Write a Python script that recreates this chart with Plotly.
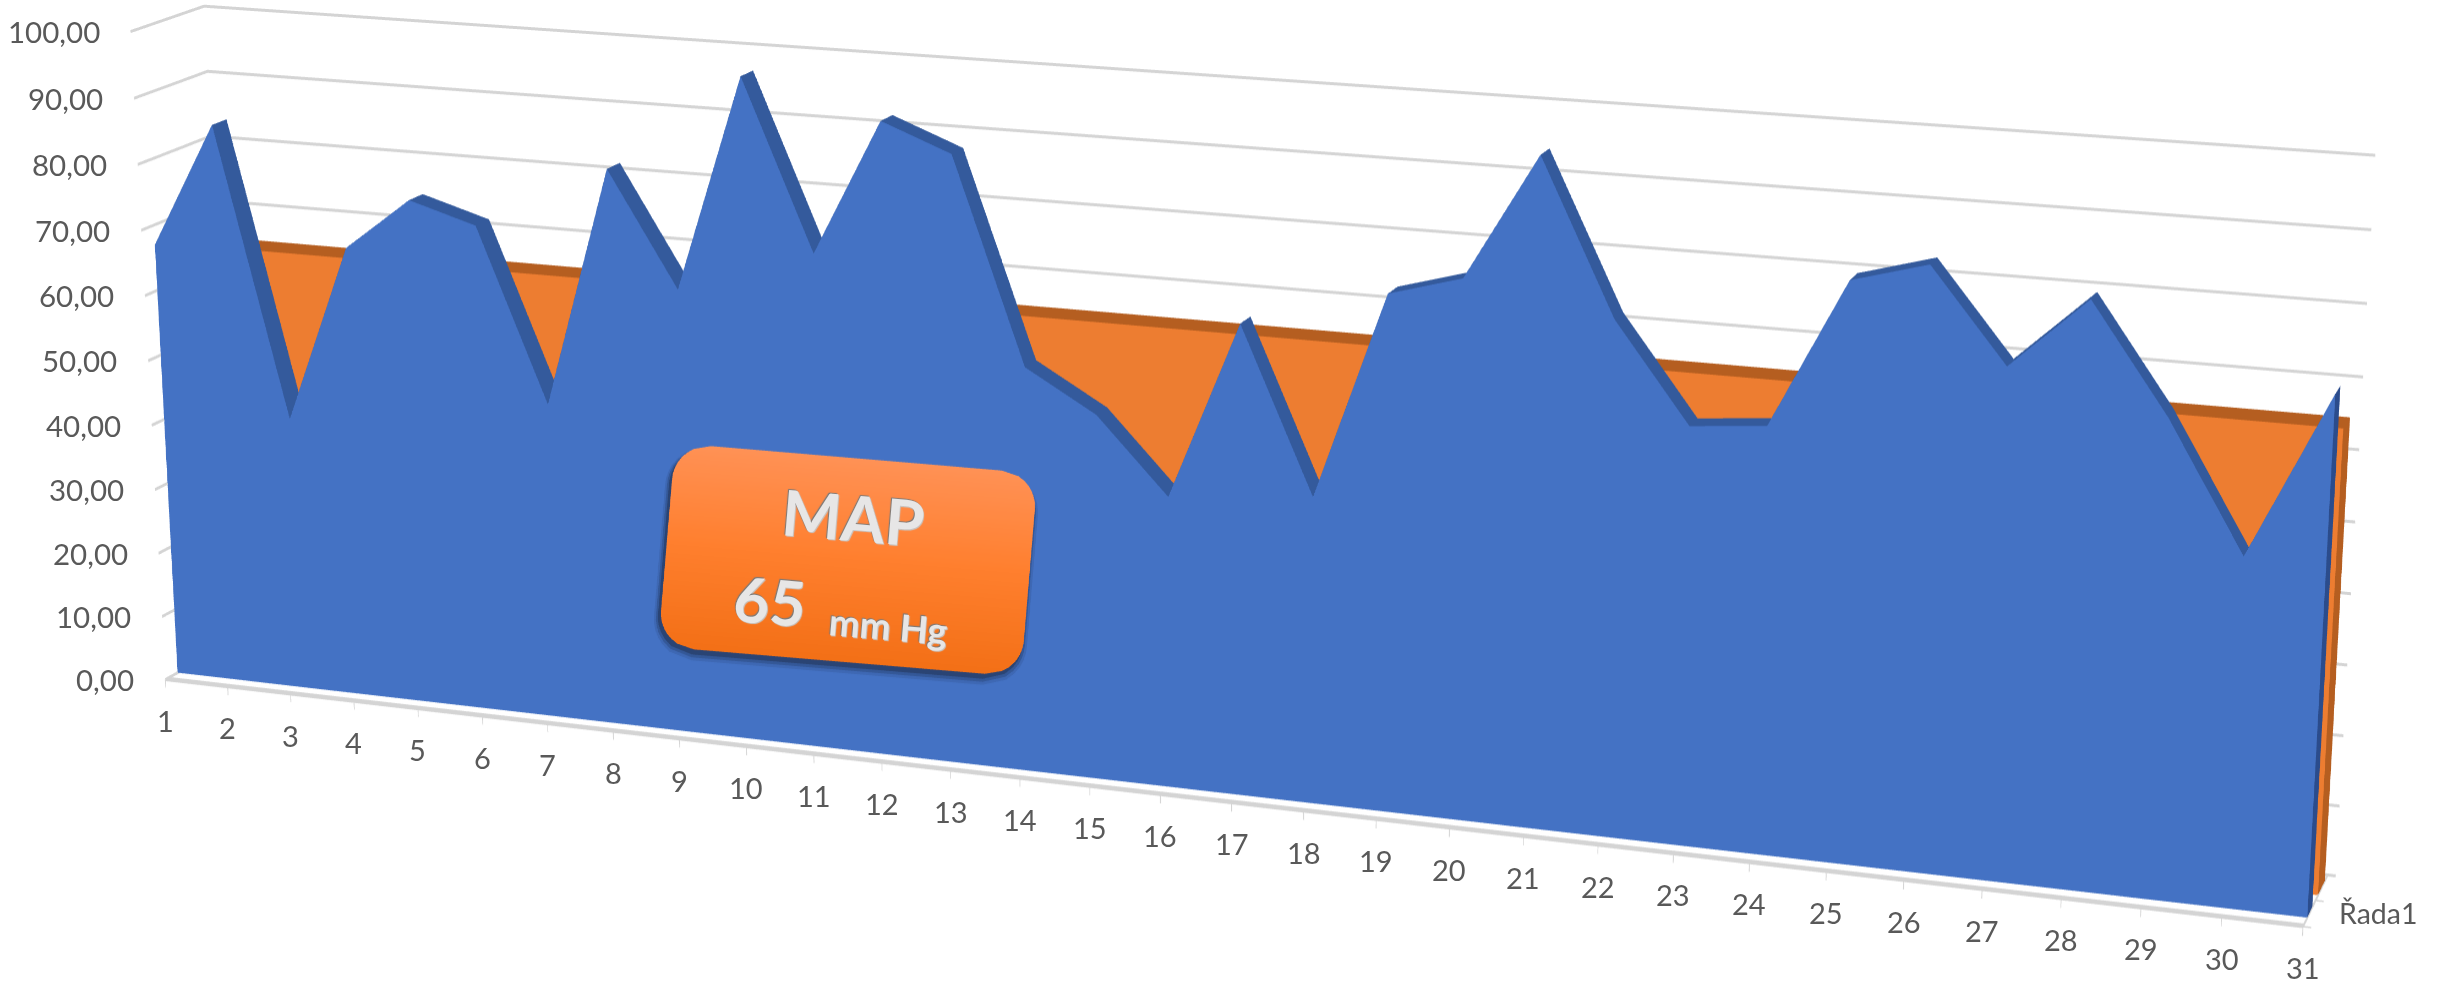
import numpy as np
import plotly.graph_objects as go

# Daily mean arterial pressure against the 65 mm Hg target
categories = list(range(1, 32))
map_values = [67, 86, 42, 69, 77, 74, 48, 84, 67, 99, 74, 94, 90, 60, 54, 43, 69, 45,
              75, 78, 96, 74, 60, 61, 82, 85, 72, 82, 67, 49, 72]
target_values = [65] * 31
value_ticks = [0, 10, 20, 30, 40, 50, 60, 70, 80, 90, 100]
value_labels = ["0,00", "10,00", "20,00", "30,00", "40,00", "50,00", "60,00", "70,00", "80,00", "90,00", "100,00"]
series_label = "Řada1"

# Scene geometry. The page is taller than the window so the long lens keeps the walls
# nearly parallel; the WebGL buffer tops out at 4096 px, which sets the horizontal focal length.
WIDTH, HEIGHT = 2453, 7456
FOCAL_X, FOCAL_Y = 4944.0, 1.20711 * HEIGHT
EYE = np.array([0.74364, -2.01105, 0.29425])
FORWARD = np.array([-0.30046, 0.83109, -0.46798])
UP = np.array([-0.15741, 0.44072, 0.88374])
DEPTH_SCALE, VALUE_SCALE = 0.06156, 0.001460

X_RANGE = [-1, 33]
Y_RANGE = [-0.2, 1.2]
Z_RANGE = [-10, 110]
MAP_DEPTH = (0.17, 0.37)
TARGET_DEPTH = (0.60, 0.88)

GREY = "#d4d4d4"
TEXT = "#595959"
FONT = "Lato"
FLAT = dict(ambient=1, diffuse=0, specular=0, roughness=1, fresnel=0)


def prism(values, d0, d1, face, top, side):
    """Area band with thickness: front face, roof strips and the closing end."""
    n = len(values)
    cats = np.array(categories, float)
    vals = np.array(values, float)
    xs = np.r_[cats, cats, cats, cats]
    ys = np.r_[np.full(2 * n, d0), np.full(2 * n, d1)]
    zs = np.r_[np.zeros(n), vals, np.zeros(n), vals]
    i, j, k, colors = [], [], [], []

    def quad(a, b, c, d, col):
        i.extend([a, a]); j.extend([b, c]); k.extend([c, d]); colors.extend([col, col])

    for m in range(n - 1):
        quad(m, m + 1, n + m + 1, n + m, face)
        quad(n + m, n + m + 1, 3 * n + m + 1, 3 * n + m, top)
    quad(n - 1, 3 * n - 1, 4 * n - 1, 2 * n - 1, side)
    return go.Mesh3d(x=xs, y=ys, z=zs, i=i, j=j, k=k, facecolor=colors, flatshading=True,
                     lighting=FLAT, hoverinfo="skip", showscale=False)


def polyline(segments):
    xs, ys, zs = [], [], []
    for seg in segments:
        for x, y, z in seg:
            xs.append(x); ys.append(y); zs.append(z)
        xs.append(None); ys.append(None); zs.append(None)
    return xs, ys, zs


# Wall gridlines, floor edges and tick stubs
segs = []
for v in value_ticks:
    segs.append([(1, 0, v), (1, 1, v), (31.1, 1, v)])
segs.append([(1, 0, 0), (31, 0, 0)])
segs.append([(1, 0.03, 0), (31, 0.03, 0)])
segs.append([(31, 0, 0), (31, 1, 0)])
ticks = [[(c, 0, 0), (c, 0, -1.3)] for c in categories]
ticks += [[(31, d, 0), (31.1, d, 0)] for d in (0, 0.5, 1)]
gx, gy, gz = polyline(segs)
tx, ty, tz = polyline(ticks)

# Screen-to-plane mapping used to lay the callout flat on screen, just ahead of the face
RIGHT = np.cross(FORWARD, UP)
RIGHT = RIGHT / np.linalg.norm(RIGHT)
TRUE_UP = np.cross(RIGHT, FORWARD)


def to_plane(px, py, depth):
    ray = FORWARD + RIGHT * (px - WIDTH / 2) / FOCAL_X + TRUE_UP * (HEIGHT / 2 - py) / FOCAL_Y
    wy = (depth - 0.5) * DEPTH_SCALE
    s = (wy - EYE[1]) / ray[1]
    w = EYE + s * ray
    return w[0] * 32 + 16, w[2] / VALUE_SCALE + 50


def callout(cx, cy, w, h, r, angle, depth, top_rgb, mid_rgb, bot_rgb, rows=48):
    xs, ys, zs, cols, i, j, k = [], [], [], [], [], [], []
    a = np.radians(angle)
    ca, sa = np.cos(a), np.sin(a)
    top_rgb, mid_rgb, bot_rgb = map(np.array, (top_rgb, mid_rgb, bot_rgb))
    for t in np.linspace(0, 1, rows):
        y = -h / 2 + h * t
        dy = max(r - (y + h / 2), r - (h / 2 - y), 0)
        inset = r - np.sqrt(max(r * r - dy * dy, 0)) if dy > 0 else 0
        c = top_rgb + (mid_rgb - top_rgb) * t / 0.5 if t < 0.5 else mid_rgb + (bot_rgb - mid_rgb) * (t - 0.5) / 0.5
        for lx in (-w / 2 + inset, w / 2 - inset):
            cat, val = to_plane(cx + lx * ca - y * sa, cy + lx * sa + y * ca, depth)
            xs.append(cat); ys.append(depth); zs.append(val)
            cols.append("rgb(%d,%d,%d)" % tuple(c))
    for m in range(rows - 1):
        a0 = 2 * m
        i.extend([a0, a0 + 1]); j.extend([a0 + 1, a0 + 3]); k.extend([a0 + 2, a0 + 2])
    return go.Mesh3d(x=xs, y=ys, z=zs, i=i, j=j, k=k, vertexcolor=cols, lighting=FLAT,
                     hoverinfo="skip", showscale=False)


traces = [
    go.Scatter3d(x=gx, y=gy, z=gz, mode="lines", line=dict(color=GREY, width=3), hoverinfo="skip"),
    go.Scatter3d(x=tx, y=ty, z=tz, mode="lines", line=dict(color=GREY, width=1.5), hoverinfo="skip"),
    prism(target_values, *TARGET_DEPTH, "#ed7d31", "#b55e20", "#b55e20"),
    prism(map_values, *MAP_DEPTH, "#4472c4", "#345a9c", "#2b4c8c"),
]

# Soft edge under the callout, then the callout itself
for grow, shift, rgb, dep in [(10, 6, (62, 104, 180), 0.165), (6, 5, (52, 88, 152), 0.16), (2, 4, (42, 68, 116), 0.155)]:
    traces.append(callout(846, 560 + shift, 364 + grow, 204 + grow, 36 + grow / 2, 4.8, dep, rgb, rgb, rgb, rows=32))
traces.append(callout(848, 560, 364, 204, 36, 4.8, 0.15, (255, 146, 86), (255, 127, 46), (243, 112, 22)))

annotations = []
for v, lab in zip(value_ticks, value_labels):
    annotations.append(dict(x=1, y=0, z=v, text=lab, showarrow=False, xanchor="right", yanchor="middle",
                            xshift=-29, yshift=0, font=dict(family=FONT, size=29.5, color=TEXT)))
for c in categories:
    annotations.append(dict(x=c, y=0, z=0, text=str(c), showarrow=False, xanchor="center", yanchor="middle",
                            yshift=-41, font=dict(family=FONT, size=29, color=TEXT)))
annotations.append(dict(x=31, y=0.5, z=0, text=series_label, showarrow=False, xanchor="left", yanchor="middle",
                        xshift=22, yshift=-13, font=dict(family=FONT, size=28.5, color=TEXT)))


def badge_text(text, px, py, size):
    return dict(xref="paper", yref="paper", x=px / WIDTH, y=1 - py / HEIGHT, text=text, showarrow=False,
                textangle=4.8, xanchor="center", yanchor="middle",
                font=dict(family=FONT, size=size, color="#e7e6e6", weight=700,
                          shadow="-1px -1px 1px #7a7a7a, 1px 1px 1px #c8c8c8"))


fig = go.Figure(traces)
fig.update_layout(
    width=WIDTH, height=HEIGHT, margin=dict(l=0, r=0, t=0, b=0), showlegend=False,
    paper_bgcolor="white",
    annotations=[badge_text("MAP", 853, 517, 63), badge_text("65", 770, 600, 62), badge_text("mm Hg", 888, 625, 37)],
    scene=dict(
        domain=dict(x=[0, 1], y=[0, 1]),
        bgcolor="white",
        xaxis=dict(visible=False, range=X_RANGE),
        yaxis=dict(visible=False, range=Y_RANGE),
        zaxis=dict(visible=False, range=Z_RANGE),
        aspectmode="manual",
        aspectratio=dict(x=(X_RANGE[1] - X_RANGE[0]) / 32,
                         y=(Y_RANGE[1] - Y_RANGE[0]) * DEPTH_SCALE,
                         z=(Z_RANGE[1] - Z_RANGE[0]) * VALUE_SCALE),
        camera=dict(eye=dict(x=EYE[0], y=EYE[1], z=EYE[2]),
                    center=dict(x=EYE[0] + 3 * FORWARD[0], y=EYE[1] + 3 * FORWARD[1], z=EYE[2] + 3 * FORWARD[2]),
                    up=dict(x=UP[0], y=UP[1], z=UP[2]),
                    projection=dict(type="perspective")),
        annotations=annotations,
    ),
)
fig.write_html("out.html", config=dict(displayModeBar=False),
               post_script="document.documentElement.style.overflow='hidden';document.body.style.overflow='hidden';document.body.style.margin='0';")
